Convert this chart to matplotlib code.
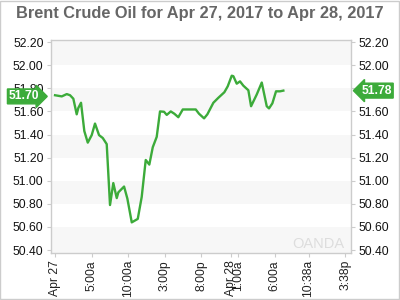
import matplotlib
matplotlib.use("Agg")
import matplotlib.pyplot as plt
from matplotlib.patches import Rectangle

plt.rcParams['font.family'] = ['Liberation Sans', 'DejaVu Sans']

# hours since Apr 27 00:00
hours = [0.0, 0.92, 1.60, 2.05, 2.50, 2.96, 3.18, 3.55, 4.00, 4.47, 5.01, 5.46, 6.01,
         6.52, 7.06, 7.51, 7.96, 8.43, 8.65, 9.43, 9.88, 10.48, 11.30, 11.84, 12.39,
         12.88, 13.35, 13.89, 14.34, 14.89, 15.26, 15.81, 16.30, 16.84, 17.45, 19.22,
         19.67, 20.36, 20.81, 21.63, 22.31, 23.13, 23.59, 24.14, 24.36, 24.82, 25.27,
         25.72, 26.41, 26.78, 27.55, 28.24, 28.92, 29.23, 29.69, 30.19, 30.74, 31.19]
prices = [51.74, 51.73, 51.75, 51.74, 51.71, 51.575, 51.63, 51.675, 51.43, 51.33,
          51.395, 51.495, 51.395, 51.37, 51.317, 50.79, 50.98, 50.85, 50.90, 50.95,
          50.846, 50.64, 50.67, 50.86, 51.18, 51.14, 51.29, 51.38, 51.60, 51.597,
          51.57, 51.60, 51.58, 51.55, 51.617, 51.617, 51.58, 51.54, 51.575, 51.675,
          51.718, 51.766, 51.817, 51.909, 51.905, 51.84, 51.86, 51.823, 51.783, 51.645,
          51.746, 51.85, 51.645, 51.626, 51.67, 51.774, 51.774, 51.78]

tick_hours = [0, 5, 10, 15, 20, 24, 25, 30, 34.63, 39.63]
tick_labels = ["Apr 27", "5:00a", "10:00a", "3:00p", "8:00p", "Apr 28", "1:00a",
               "6:00a", "10:38a", "3:38p"]
y_ticks = [50.40, 50.60, 50.80, 51.00, 51.20, 51.40, 51.60, 51.80, 52.00, 52.20]
open_label = "51.70"
last_label = "51.78"

title = "Brent Crude Oil for Apr 27, 2017 to Apr 28, 2017"

green = '#3cab3a'
border = '#cccccc'

fig = plt.figure(figsize=(4, 3), dpi=100)
fig.patch.set_facecolor('white')
fig.add_artist(Rectangle((0.001, 0.002), 0.997, 0.995, transform=fig.transFigure,
                         fill=False, edgecolor=border, linewidth=1))

ax = fig.add_axes([50.5/400, 47/300, 301/400, 213/300])
ax.set_xlim(-0.62, 40.5)
ax.set_ylim(50.375, 52.218)

# alternating bands
for i, lo in enumerate(y_ticks[:-1]):
    if i % 2 == 0:
        ax.axhspan(lo if i > 0 else 50.3, y_ticks[i+1], color='#f7f7f7', zorder=0, lw=0)
ax.axhspan(52.0, 52.3, color='#f7f7f7', zorder=0, lw=0)

ax.plot(hours, prices, color=green, lw=1.7, zorder=3, solid_joinstyle='round')

ax.set_yticks(y_ticks)
ax.set_yticklabels([f"{v:.2f}" for v in y_ticks])
ax.set_xticks(tick_hours)
ax.set_xticklabels(tick_labels, rotation=90)
ax.tick_params(axis='y', which='both', left=True, right=True, labelleft=True,
               labelright=True, direction='out', length=3, color=border,
               labelsize=8.7, labelcolor='#111111', pad=2)
ax.tick_params(axis='x', direction='out', length=3, color=border, labelsize=8.7,
               labelcolor='#222222', pad=2)
for s in ax.spines.values():
    s.set_color(border)
    s.set_linewidth(1)

fig.text(0.5, 0.955, title, ha='center', va='center', fontsize=11.8,
         fontweight='bold', color='#666666')

# watermark
ax.text(0.975, 0.01, "OANDA", transform=ax.transAxes, ha='right', va='bottom',
        fontsize=10.5, color='#dddddd', zorder=1)

# price tags
ax.annotate(last_label, xy=(1.0, prices[-1]), xycoords=('axes fraction', 'data'),
            xytext=(7, 0), textcoords='offset points', ha='left', va='center',
            fontsize=8.7, fontweight='bold', color='white', zorder=10,
            bbox=dict(boxstyle='larrow,pad=0.12', fc=green, ec=green))
ax.annotate(open_label, xy=(0.0, prices[0] - 0.01), xycoords=('axes fraction', 'data'),
            xytext=(-8, 0), textcoords='offset points', ha='right', va='center',
            fontsize=8.7, fontweight='bold', color='white', zorder=10,
            bbox=dict(boxstyle='rarrow,pad=0.12', fc=green, ec=green))

fig.savefig('out.png', dpi=100)
